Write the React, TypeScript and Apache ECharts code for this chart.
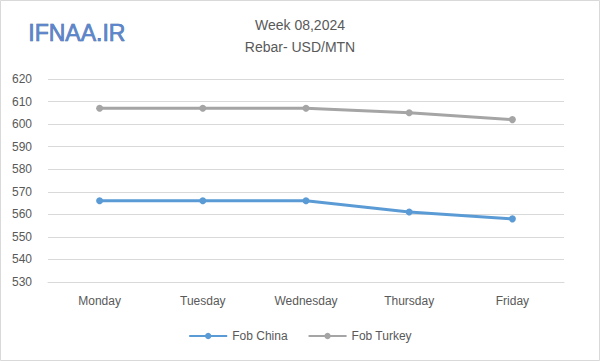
import React, { useEffect, useRef } from "react";
import * as echarts from "echarts";

const categories = ["Monday", "Tuesday", "Wednesday", "Thursday", "Friday"];
const fobChina = [566, 566, 566, 561, 558];
const fobTurkey = [607, 607, 607, 605, 602];
const yMin = 530;
const yMax = 620;
const yInterval = 10;

const FONT = "'Liberation Sans', Arial, sans-serif";

export default function App() {
  const ref = useRef<HTMLDivElement>(null);
  useEffect(() => {
    const chart = echarts.init(ref.current!, null, { renderer: "svg" });
    chart.setOption({
      animation: false,
      backgroundColor: "#ffffff",
      textStyle: { fontFamily: FONT },
      title: {
        text: "Week 08,2024\nRebar- USD/MTN",
        left: "center",
        top: 9,
        textStyle: {
          fontSize: 14,
          fontWeight: "normal",
          color: "#595959",
          lineHeight: 22,
          fontFamily: FONT,
        },
      },
      graphic: [
        {
          type: "rect",
          shape: { x: 0.5, y: 0.5, width: 599, height: 360 },
          style: { fill: "none", stroke: "#d9d9d9", lineWidth: 1 },
        },
        {
          type: "text",
          left: 28,
          top: 21,
          style: {
            text: "IFNAA.IR",
            fontSize: 23,
            fontFamily: FONT,
            fill: "#5b86cc",
            stroke: "#2f5597",
            lineWidth: 0.6,
          },
        },
      ],
      grid: { left: 48, right: 36, top: 79, bottom: 79, containLabel: false },
      legend: {
        bottom: 14,
        left: "center",
        itemWidth: 38,
        itemHeight: 8,
        itemGap: 20,
        textStyle: { fontSize: 12, color: "#595959", fontFamily: FONT },
        data: ["Fob China", "Fob Turkey"],
      },
      xAxis: {
        type: "category",
        data: categories,
        axisLine: { show: true, lineStyle: { color: "#d9d9d9" } },
        axisTick: { show: false },
        axisLabel: { color: "#595959", fontSize: 12, margin: 13, fontFamily: FONT },
      },
      yAxis: {
        type: "value",
        min: yMin,
        max: yMax,
        interval: yInterval,
        axisLine: { show: false },
        axisTick: { show: false },
        axisLabel: { color: "#595959", fontSize: 12, margin: 16, fontFamily: FONT },
        splitLine: { lineStyle: { color: "#d9d9d9" } },
      },
      series: [
        {
          name: "Fob China",
          type: "line",
          data: fobChina,
          symbol: "circle",
          symbolSize: 7,
          itemStyle: { color: "#5b9bd5" },
          lineStyle: { width: 3, color: "#5b9bd5" },
        },
        {
          name: "Fob Turkey",
          type: "line",
          data: fobTurkey,
          symbol: "circle",
          symbolSize: 7,
          itemStyle: { color: "#a5a5a5" },
          lineStyle: { width: 3, color: "#a5a5a5" },
        },
      ],
    });
    return () => chart.dispose();
  }, []);
  return (
    <div
      ref={ref}
      style={{ position: "absolute", left: 0, top: 0, width: 600, height: 361 }}
    />
  );
}
